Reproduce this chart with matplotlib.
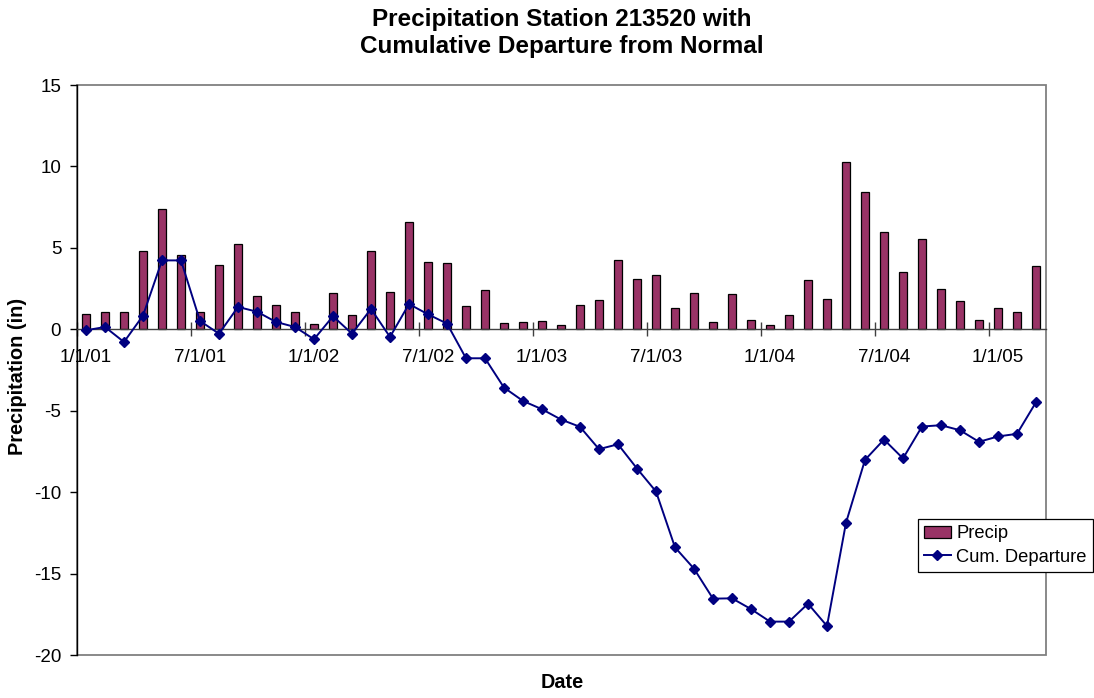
import matplotlib
matplotlib.use('Agg')
import matplotlib.pyplot as plt
from matplotlib.patches import Rectangle, Patch
from matplotlib.lines import Line2D
import numpy as np
import pandas as pd

plt.rcParams['font.family'] = ['Liberation Sans', 'DejaVu Sans']
plt.rcParams['axes.unicode_minus'] = False

# Monthly categories Jan 2001 .. Mar 2005
months = pd.date_range('2001-01-01', periods=51, freq='MS')

precip = [0.94, 1.06, 1.06, 4.81, 7.36, 4.54, 1.06, 3.93, 5.26, 2.04, 1.51, 1.06,
          0.31, 2.21, 0.90, 4.83, 2.27, 6.58, 4.15, 4.09, 1.45, 2.43, 0.39, 0.45,
          0.49, 0.29, 1.49, 1.82, 4.25, 3.09, 3.35, 1.33, 2.25, 0.43, 2.19, 0.59,
          0.29, 0.90, 3.05, 1.88, 10.27, 8.45, 5.97, 3.54, 5.56, 2.49, 1.76, 0.59,
          1.33, 1.04, 3.87]

cum_departure = [-0.06, 0.14, -0.78, 0.84, 4.23, 4.23, 0.51, -0.27, 1.37, 1.08, 0.45, 0.14,
                 -0.61, 0.80, -0.27, 1.25, -0.47, 1.55, 0.92, 0.35, -1.78, -1.78, -3.58, -4.40,
                 -4.91, -5.54, -5.99, -7.36, -7.06, -8.55, -9.96, -13.39, -14.70, -16.54, -16.52, -17.18,
                 -17.95, -17.95, -16.85, -18.22, -11.88, -8.02, -6.77, -7.93, -5.97, -5.89, -6.20, -6.91,
                 -6.58, -6.42, -4.48]

tick_labels = ["1/1/01", "7/1/01", "1/1/02", "7/1/02", "1/1/03", "7/1/03",
               "1/1/04", "7/1/04", "1/1/05"]

bar_color = '#993366'
line_color = '#000080'

fig = plt.figure(figsize=(10.94, 6.98), dpi=100)
ax = fig.add_axes([76.5/1094, 1-655/698, (1045.5-76.5)/1094, (655-85)/698])

x = np.arange(len(months))
ax.bar(x, precip, width=0.38, color=bar_color, edgecolor='black', linewidth=0.9, zorder=2)
ax.plot(x, cum_departure, color=line_color, lw=1.4, marker='D', ms=5.5, zorder=3)

ax.set_xlim(-0.5, len(months) - 0.5)
ax.set_ylim(-20, 15)
ax.set_yticks(np.arange(-20, 16, 5))

# x axis crossing at zero
ax.spines['bottom'].set_position(('data', 0))
ax.spines['bottom'].set_color('#404040')
ax.spines['bottom'].set_linewidth(1.0)
ax.spines['top'].set_visible(False)
ax.spines['right'].set_visible(False)
ax.spines['left'].set_color('black')
ax.spines['left'].set_linewidth(1.0)

label_pos = [i for i, m in enumerate(months) if m.month in (1, 7)]
ax.set_xticks([p - 0.5 for p in label_pos])
ax.set_xticklabels([])
ax.set_xticks(label_pos, minor=True)
ax.set_xticklabels(tick_labels, minor=True)
ax.tick_params(axis='x', which='major', direction='inout', length=10, width=1, color='#404040')
ax.tick_params(axis='x', which='minor', length=0, pad=14, labelsize=13.5)
ax.tick_params(axis='y', direction='out', length=5, width=1, labelsize=13.5, pad=6)

frame = Rectangle((0, 0), 1, 1, transform=ax.transAxes, fill=False,
                  edgecolor='#808080', lw=1.3, clip_on=False, zorder=0)
ax.add_patch(frame)

fig.text(562/1094, 1-33/698, "Precipitation Station 213520 with\nCumulative Departure from Normal",
         ha='center', va='center', fontsize=17.5, fontweight='bold', linespacing=1.25)
fig.text(18/1094, 1-376/698, "Precipitation (in)", ha='center', va='center',
         rotation=90, fontsize=14.3, fontweight='bold')
fig.text(562/1094, 1-682/698, "Date", ha='center', va='center', fontsize=14.3, fontweight='bold')

handles = [Patch(facecolor=bar_color, edgecolor='black', linewidth=0.9),
           Line2D([], [], color=line_color, lw=1.4, marker='D', ms=5.5)]
leg = fig.legend(handles, ["Precip", "Cum. Departure"], loc='upper left',
                 bbox_to_anchor=(917.5/1094, 1-519/698), frameon=True, fancybox=False,
                 edgecolor='black', framealpha=1, fontsize=13.2, borderpad=0.35,
                 labelspacing=0.35, handlelength=1.45, handletextpad=0.3, borderaxespad=0)
leg.get_frame().set_linewidth(0.9)

fig.savefig('out.png', dpi=100)
